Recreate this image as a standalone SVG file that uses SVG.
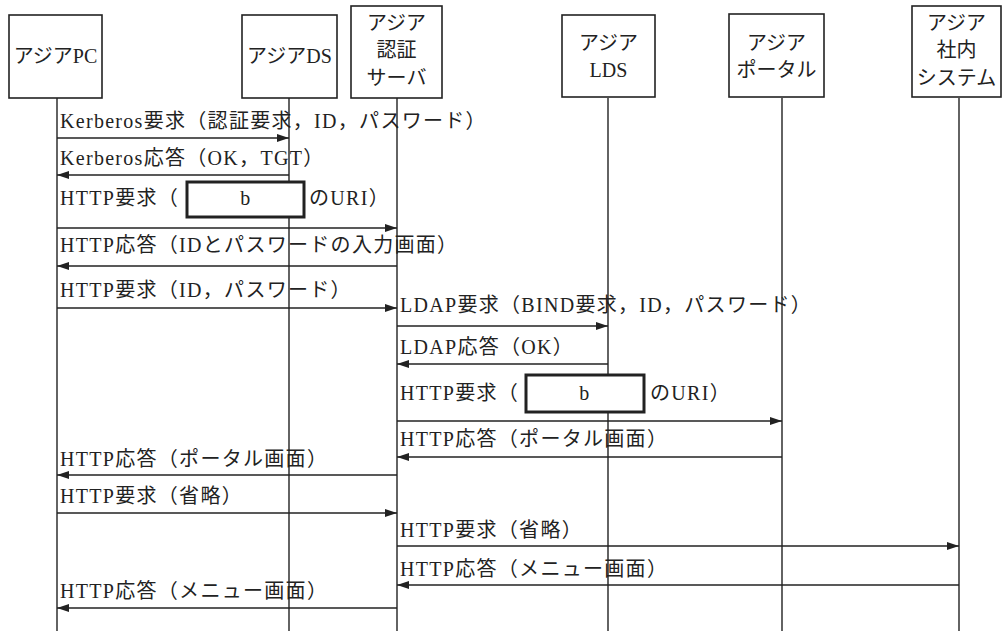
<svg xmlns="http://www.w3.org/2000/svg" width="1002" height="631" viewBox="0 0 1002 631">
<style>
.box{fill:#fff;stroke:#222;stroke-width:1.6}
.life{stroke:#222;stroke-width:1.4;fill:none}
.msg{stroke:#222;stroke-width:1.5;fill:none}
.slot{fill:#fff;stroke:#222;stroke-width:3}
text{font-family:"Liberation Serif","Noto Sans CJK JP",serif;font-size:20px;fill:#222}
#labels text{letter-spacing:1.3px}
.c{text-anchor:middle}
</style>
<defs>
<marker id="ah" viewBox="0 0 12 8" refX="12" refY="4" markerWidth="12" markerHeight="8" markerUnits="userSpaceOnUse" orient="auto">
<path d="M0,0 L12,4 L0,8 Z" fill="#222"/>
</marker>
</defs>
<rect width="1002" height="631" fill="#fff"/>
<g id="lifelines">
<line class="life" x1="57" y1="98" x2="57" y2="631"/>
<line class="life" x1="289" y1="98" x2="289" y2="631"/>
<line class="life" x1="397" y1="98" x2="397" y2="631"/>
<line class="life" x1="608" y1="98" x2="608" y2="631"/>
<line class="life" x1="782" y1="98" x2="782" y2="631"/>
<line class="life" x1="959" y1="98" x2="959" y2="631"/>
</g>
<g id="node-pc">
<rect class="box" x="9" y="15" width="93" height="83"/>
<text class="c" x="55.5" y="63">アジアPC</text>
</g>
<g id="node-ds">
<rect class="box" x="242" y="15" width="95" height="83"/>
<text class="c" x="289.5" y="63">アジアDS</text>
</g>
<g id="node-auth">
<rect class="box" x="351" y="6" width="91" height="92"/>
<text class="c" x="396.5" y="30">アジア</text>
<text class="c" x="396.5" y="57">認証</text>
<text class="c" x="396.5" y="85">サーバ</text>
</g>
<g id="node-lds">
<rect class="box" x="562" y="15" width="93" height="82"/>
<text class="c" x="608.5" y="50">アジア</text>
<text class="c" x="608.5" y="77">LDS</text>
</g>
<g id="node-portal">
<rect class="box" x="729" y="14" width="95" height="83"/>
<text class="c" x="776.5" y="50">アジア</text>
<text class="c" x="776.5" y="77">ポータル</text>
</g>
<g id="node-system">
<rect class="box" x="912" y="6" width="89" height="91"/>
<text class="c" x="956.5" y="30">アジア</text>
<text class="c" x="956.5" y="57">社内</text>
<text class="c" x="956.5" y="85">システム</text>
</g>
<g id="connectors">
<line class="msg" x1="57" y1="138" x2="289" y2="138" marker-end="url(#ah)"/>
<line class="msg" x1="289" y1="175" x2="57" y2="175" marker-end="url(#ah)"/>
<line class="msg" x1="57" y1="228" x2="397" y2="228" marker-end="url(#ah)"/>
<line class="msg" x1="397" y1="266" x2="57" y2="266" marker-end="url(#ah)"/>
<line class="msg" x1="57" y1="308" x2="397" y2="308" marker-end="url(#ah)"/>
<line class="msg" x1="397" y1="326" x2="608" y2="326" marker-end="url(#ah)"/>
<line class="msg" x1="608" y1="364" x2="397" y2="364" marker-end="url(#ah)"/>
<line class="msg" x1="397" y1="421" x2="782" y2="421" marker-end="url(#ah)"/>
<line class="msg" x1="782" y1="457" x2="397" y2="457" marker-end="url(#ah)"/>
<line class="msg" x1="397" y1="475" x2="57" y2="475" marker-end="url(#ah)"/>
<line class="msg" x1="57" y1="513" x2="397" y2="513" marker-end="url(#ah)"/>
<line class="msg" x1="397" y1="546" x2="959" y2="546" marker-end="url(#ah)"/>
<line class="msg" x1="959" y1="585" x2="397" y2="585" marker-end="url(#ah)"/>
<line class="msg" x1="397" y1="608" x2="57" y2="608" marker-end="url(#ah)"/>
</g>
<g id="labels">
<text x="60" y="128">Kerberos要求（認証要求，ID，パスワード）</text>
<text x="60" y="165">Kerberos応答（OK，TGT）</text>
<text x="60" y="205">HTTP要求（</text>
<rect class="slot" x="187" y="182" width="117" height="35"/>
<text class="c" x="246" y="205">b</text>
<text x="309" y="205">のURI）</text>
<text x="60" y="252">HTTP応答（IDとパスワードの入力画面）</text>
<text x="60" y="297">HTTP要求（ID，パスワード）</text>
<text x="400" y="312">LDAP要求（BIND要求，ID，パスワード）</text>
<text x="400" y="354">LDAP応答（OK）</text>
<text x="400" y="400">HTTP要求（</text>
<rect class="slot" x="526" y="375" width="118" height="37"/>
<text class="c" x="585" y="400">b</text>
<text x="650" y="400">のURI）</text>
<text x="400" y="446">HTTP応答（ポータル画面）</text>
<text x="60" y="466">HTTP応答（ポータル画面）</text>
<text x="60" y="503">HTTP要求（省略）</text>
<text x="400" y="537">HTTP要求（省略）</text>
<text x="400" y="576">HTTP応答（メニュー画面）</text>
<text x="60" y="598">HTTP応答（メニュー画面）</text>
</g>
</svg>
